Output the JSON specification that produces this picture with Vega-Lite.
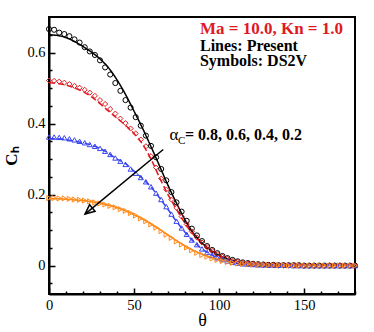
{
  "$schema": "https://vega.github.io/schema/vega-lite/v6.json",
  "width": 306,
  "height": 277,
  "autosize": "none",
  "padding": {"left": 49, "top": 17, "right": 19, "bottom": 38},
  "background": "white",
  "config": {
    "view": {"stroke": "black", "strokeWidth": 2},
    "axis": {"labelFont": "Liberation Serif, Times New Roman, serif", "titleFont": "Liberation Serif, Times New Roman, serif", "labelFontSize": 14.5, "labelColor": "black", "titleColor": "black", "domainColor": "black", "domainWidth": 2, "tickColor": "black", "grid": false, "labelOverlap": false, "labelFlush": false}
  },
  "datasets": {
    "lines": [
      {"t": 0, "a08": 0.650, "a06": 0.515, "a04": 0.358, "a02": 0.188},
      {"t": 5, "a08": 0.648, "a06": 0.513, "a04": 0.357, "a02": 0.188},
      {"t": 10, "a08": 0.642, "a06": 0.508, "a04": 0.355, "a02": 0.187},
      {"t": 15, "a08": 0.631, "a06": 0.500, "a04": 0.351, "a02": 0.185},
      {"t": 20, "a08": 0.617, "a06": 0.490, "a04": 0.346, "a02": 0.183},
      {"t": 25, "a08": 0.601, "a06": 0.475, "a04": 0.339, "a02": 0.180},
      {"t": 30, "a08": 0.582, "a06": 0.456, "a04": 0.330, "a02": 0.176},
      {"t": 35, "a08": 0.557, "a06": 0.435, "a04": 0.316, "a02": 0.170},
      {"t": 40, "a08": 0.523, "a06": 0.415, "a04": 0.300, "a02": 0.163},
      {"t": 45, "a08": 0.482, "a06": 0.395, "a04": 0.287, "a02": 0.154},
      {"t": 50, "a08": 0.435, "a06": 0.372, "a04": 0.266, "a02": 0.143},
      {"t": 55, "a08": 0.387, "a06": 0.342, "a04": 0.245, "a02": 0.131},
      {"t": 60, "a08": 0.335, "a06": 0.300, "a04": 0.221, "a02": 0.117},
      {"t": 65, "a08": 0.281, "a06": 0.248, "a04": 0.191, "a02": 0.102},
      {"t": 70, "a08": 0.226, "a06": 0.200, "a04": 0.158, "a02": 0.086},
      {"t": 75, "a08": 0.176, "a06": 0.158, "a04": 0.124, "a02": 0.070},
      {"t": 80, "a08": 0.129, "a06": 0.119, "a04": 0.094, "a02": 0.055},
      {"t": 85, "a08": 0.091, "a06": 0.087, "a04": 0.068, "a02": 0.042},
      {"t": 90, "a08": 0.064, "a06": 0.062, "a04": 0.047, "a02": 0.032},
      {"t": 95, "a08": 0.044, "a06": 0.043, "a04": 0.032, "a02": 0.023},
      {"t": 100, "a08": 0.029, "a06": 0.029, "a04": 0.021, "a02": 0.017},
      {"t": 105, "a08": 0.019, "a06": 0.019, "a04": 0.014, "a02": 0.012},
      {"t": 110, "a08": 0.012, "a06": 0.012, "a04": 0.009, "a02": 0.008},
      {"t": 115, "a08": 0.008, "a06": 0.008, "a04": 0.006, "a02": 0.005},
      {"t": 120, "a08": 0.005, "a06": 0.005, "a04": 0.004, "a02": 0.004},
      {"t": 125, "a08": 0.003, "a06": 0.003, "a04": 0.003, "a02": 0.003},
      {"t": 130, "a08": 0.002, "a06": 0.002, "a04": 0.002, "a02": 0.002},
      {"t": 140, "a08": 0.001, "a06": 0.001, "a04": 0.001, "a02": 0.001},
      {"t": 150, "a08": 0.001, "a06": 0.001, "a04": 0.001, "a02": 0.001},
      {"t": 160, "a08": 0.001, "a06": 0.001, "a04": 0.001, "a02": 0.001},
      {"t": 170, "a08": 0.001, "a06": 0.001, "a04": 0.001, "a02": 0.001},
      {"t": 180, "a08": 0.001, "a06": 0.001, "a04": 0.001, "a02": 0.001}
    ],
    "symbols": [
      {"t": 0, "a08": 0.666, "a06": 0.521, "a04": 0.362, "a02": 0.190},
      {"t": 3, "a08": 0.664, "a06": 0.520, "a04": 0.362, "a02": 0.190},
      {"t": 6, "a08": 0.656, "a06": 0.518, "a04": 0.361, "a02": 0.189},
      {"t": 9, "a08": 0.652, "a06": 0.515, "a04": 0.360, "a02": 0.189},
      {"t": 12, "a08": 0.646, "a06": 0.511, "a04": 0.357, "a02": 0.188},
      {"t": 15, "a08": 0.637, "a06": 0.506, "a04": 0.354, "a02": 0.186},
      {"t": 18, "a08": 0.628, "a06": 0.501, "a04": 0.350, "a02": 0.185},
      {"t": 21, "a08": 0.615, "a06": 0.495, "a04": 0.346, "a02": 0.183},
      {"t": 24, "a08": 0.603, "a06": 0.487, "a04": 0.341, "a02": 0.181},
      {"t": 27, "a08": 0.593, "a06": 0.478, "a04": 0.336, "a02": 0.178},
      {"t": 30, "a08": 0.578, "a06": 0.466, "a04": 0.330, "a02": 0.175},
      {"t": 33, "a08": 0.558, "a06": 0.455, "a04": 0.322, "a02": 0.172},
      {"t": 36, "a08": 0.538, "a06": 0.441, "a04": 0.313, "a02": 0.168},
      {"t": 39, "a08": 0.514, "a06": 0.428, "a04": 0.303, "a02": 0.164},
      {"t": 42, "a08": 0.492, "a06": 0.414, "a04": 0.294, "a02": 0.159},
      {"t": 45, "a08": 0.466, "a06": 0.401, "a04": 0.285, "a02": 0.154},
      {"t": 48, "a08": 0.445, "a06": 0.386, "a04": 0.272, "a02": 0.148},
      {"t": 51, "a08": 0.418, "a06": 0.372, "a04": 0.260, "a02": 0.141},
      {"t": 54, "a08": 0.394, "a06": 0.355, "a04": 0.248, "a02": 0.133},
      {"t": 57, "a08": 0.366, "a06": 0.336, "a04": 0.236, "a02": 0.125},
      {"t": 60, "a08": 0.337, "a06": 0.308, "a04": 0.222, "a02": 0.116},
      {"t": 63, "a08": 0.305, "a06": 0.276, "a04": 0.204, "a02": 0.107},
      {"t": 66, "a08": 0.272, "a06": 0.245, "a04": 0.186, "a02": 0.097},
      {"t": 69, "a08": 0.240, "a06": 0.214, "a04": 0.166, "a02": 0.087},
      {"t": 72, "a08": 0.207, "a06": 0.186, "a04": 0.145, "a02": 0.078},
      {"t": 75, "a08": 0.178, "a06": 0.163, "a04": 0.125, "a02": 0.068},
      {"t": 78, "a08": 0.152, "a06": 0.138, "a04": 0.106, "a02": 0.059},
      {"t": 81, "a08": 0.126, "a06": 0.116, "a04": 0.088, "a02": 0.051},
      {"t": 84, "a08": 0.104, "a06": 0.096, "a04": 0.072, "a02": 0.043},
      {"t": 87, "a08": 0.085, "a06": 0.079, "a04": 0.059, "a02": 0.036},
      {"t": 90, "a08": 0.069, "a06": 0.065, "a04": 0.047, "a02": 0.030},
      {"t": 93, "a08": 0.055, "a06": 0.052, "a04": 0.037, "a02": 0.025},
      {"t": 96, "a08": 0.044, "a06": 0.041, "a04": 0.029, "a02": 0.020},
      {"t": 99, "a08": 0.035, "a06": 0.032, "a04": 0.022, "a02": 0.016},
      {"t": 102, "a08": 0.027, "a06": 0.025, "a04": 0.017, "a02": 0.013},
      {"t": 105, "a08": 0.021, "a06": 0.019, "a04": 0.013, "a02": 0.010},
      {"t": 108, "a08": 0.016, "a06": 0.014, "a04": 0.009, "a02": 0.008},
      {"t": 111, "a08": 0.012, "a06": 0.011, "a04": 0.007, "a02": 0.006},
      {"t": 114, "a08": 0.009, "a06": 0.008, "a04": 0.005, "a02": 0.005},
      {"t": 117, "a08": 0.007, "a06": 0.006, "a04": 0.004, "a02": 0.004},
      {"t": 120, "a08": 0.005, "a06": 0.005, "a04": 0.003, "a02": 0.003},
      {"t": 123, "a08": 0.004, "a06": 0.004, "a04": 0.002, "a02": 0.002},
      {"t": 126, "a08": 0.003, "a06": 0.003, "a04": 0.002, "a02": 0.002},
      {"t": 129, "a08": 0.002, "a06": 0.002, "a04": 0.001, "a02": 0.001},
      {"t": 132, "a08": 0.002, "a06": 0.002, "a04": 0.001, "a02": 0.001},
      {"t": 135, "a08": 0.001, "a06": 0.001, "a04": 0.001, "a02": 0.001},
      {"t": 138, "a08": 0.001, "a06": 0.001, "a04": 0.001, "a02": 0.001},
      {"t": 141, "a08": 0.001, "a06": 0.001, "a04": 0.001, "a02": 0.000},
      {"t": 144, "a08": 0.001, "a06": 0.001, "a04": 0.000, "a02": 0.000},
      {"t": 147, "a08": 0.001, "a06": 0.000, "a04": 0.000, "a02": 0.000},
      {"t": 150, "a08": 0.000, "a06": 0.000, "a04": 0.000, "a02": 0.000},
      {"t": 153, "a08": 0.000, "a06": 0.000, "a04": 0.000, "a02": 0.000},
      {"t": 156, "a08": 0.000, "a06": 0.000, "a04": 0.000, "a02": 0.000},
      {"t": 159, "a08": 0.000, "a06": 0.000, "a04": 0.000, "a02": 0.000},
      {"t": 162, "a08": 0.000, "a06": 0.000, "a04": 0.000, "a02": 0.000},
      {"t": 165, "a08": 0.000, "a06": 0.000, "a04": 0.000, "a02": 0.000},
      {"t": 168, "a08": 0.000, "a06": 0.000, "a04": 0.000, "a02": 0.000},
      {"t": 171, "a08": 0.000, "a06": 0.000, "a04": 0.000, "a02": 0.000},
      {"t": 174, "a08": 0.000, "a06": 0.000, "a04": 0.000, "a02": 0.000},
      {"t": 177, "a08": 0.000, "a06": 0.000, "a04": 0.000, "a02": 0.000},
      {"t": 180, "a08": 0.000, "a06": 0.000, "a04": 0.000, "a02": 0.000}
    ]
  },
  "encoding": {
    "x": {"field": "t", "type": "quantitative", "title": "θ",
      "scale": {"domain": [0, 180], "nice": false, "zero": false},
      "axis": {"values": [0,10,20,30,40,50,60,70,80,90,100,110,120,130,140,150,160,170,180],
        "labelExpr": "datum.value % 50 === 0 ? datum.label : ''",
        "tickSize": {"condition": {"test": "datum.value % 50 === 0", "value": -6}, "value": -3},
        "tickWidth": 1.5, "labelPadding": 10, "titleFontSize": 18, "titleFontWeight": "normal", "titlePadding": -3}},
    "y": {"field": "ch", "type": "quantitative", "title": "Cₕ",
      "scale": {"domain": [-0.08, 0.7], "nice": false, "zero": false},
      "axis": {"values": [-0.05,0,0.05,0.1,0.15,0.2,0.25,0.3,0.35,0.4,0.45,0.5,0.55,0.6,0.65],
        "labelExpr": "abs(datum.value*5 - round(datum.value*5)) < 0.001 ? format(datum.value, '~g') : ''",
        "tickSize": {"condition": {"test": "abs(datum.value*5 - round(datum.value*5)) < 0.001", "value": -6}, "value": -3},
        "tickWidth": 1.5, "labelPadding": 10, "titleFontSize": 17, "titleFontWeight": "bold", "titlePadding": 6}}
  },
  "layer": [
    {
      "data": {"name": "lines"},
      "transform": [{"fold": ["a08", "a06", "a04", "a02"], "as": ["series", "ch"]}],
      "mark": {"type": "line", "interpolate": "monotone", "strokeWidth": 1.5},
      "encoding": {
        "color": {"field": "series", "type": "nominal", "legend": null,
          "scale": {"domain": ["a08", "a06", "a04", "a02"], "range": ["#000000", "#e0191f", "#3a45f0", "#ff8a1a"]}},
        "strokeDash": {"field": "series", "type": "nominal", "legend": null,
          "scale": {"domain": ["a08", "a06", "a04", "a02"], "range": [[1, 0], [6, 3], [6, 3], [1, 0]]}}
      }
    },
    {
      "data": {"name": "symbols"},
      "transform": [{"fold": ["a08", "a06", "a04", "a02"], "as": ["series", "ch"]}],
      "mark": {"type": "point", "filled": false, "strokeWidth": 1, "size": 26, "opacity": 1},
      "encoding": {
        "color": {"field": "series", "type": "nominal", "legend": null,
          "scale": {"domain": ["a08", "a06", "a04", "a02"], "range": ["#000000", "#e0191f", "#3a45f0", "#ff8a1a"]}},
        "shape": {"field": "series", "type": "nominal", "legend": null,
          "scale": {"domain": ["a08", "a06", "a04", "a02"], "range": ["circle", "diamond", "triangle-up", "triangle-right"]}}
      }
    },
    {
      "data": {"values": [{"t": 67.2, "ch": 0.327, "t2": 21.2, "ch2": 0.145}]},
      "mark": {"type": "rule", "color": "black", "strokeWidth": 1.5},
      "encoding": {"x2": {"field": "t2"}, "y2": {"field": "ch2"}}
    },
    {
      "data": {"values": [{"t": 21.2, "ch": 0.145}]},
      "mark": {"type": "point", "shape": "M0,0L-0.45,1L0.45,1Z", "angle": 230, "size": 360, "filled": false, "stroke": "black", "strokeWidth": 1.5, "opacity": 1}
    },
    {
      "data": {"values": [{"t": 88.8, "ch": 0.651, "label": "Ma = 10.0, Kn = 1.0"}]},
      "mark": {"type": "text", "align": "left", "baseline": "alphabetic", "font": "Liberation Serif, Times New Roman, serif", "fontWeight": "bold", "fontSize": 17, "color": "#e0191f"},
      "encoding": {"text": {"field": "label"}}
    },
    {
      "data": {"values": [
        {"t": 88.8, "ch": 0.605, "label": "Lines: Present"},
        {"t": 88.8, "ch": 0.561, "label": "Symbols: DS2V"},
        {"t": 80, "ch": 0.353, "label": "= 0.8, 0.6, 0.4, 0.2"}
      ]},
      "mark": {"type": "text", "align": "left", "baseline": "alphabetic", "font": "Liberation Serif, Times New Roman, serif", "fontWeight": "bold", "fontSize": 16, "color": "black"},
      "encoding": {"text": {"field": "label"}}
    },
    {
      "data": {"values": [{"t": 70.9, "ch": 0.353, "label": "α"}]},
      "mark": {"type": "text", "align": "left", "baseline": "alphabetic", "font": "Liberation Serif, Times New Roman, serif", "fontSize": 17, "color": "black"},
      "encoding": {"text": {"field": "label"}}
    },
    {
      "data": {"values": [{"t": 75.9, "ch": 0.343, "label": "C"}]},
      "mark": {"type": "text", "align": "left", "baseline": "alphabetic", "font": "Liberation Serif, Times New Roman, serif", "fontSize": 11, "color": "black"},
      "encoding": {"text": {"field": "label"}}
    }
  ]
}
